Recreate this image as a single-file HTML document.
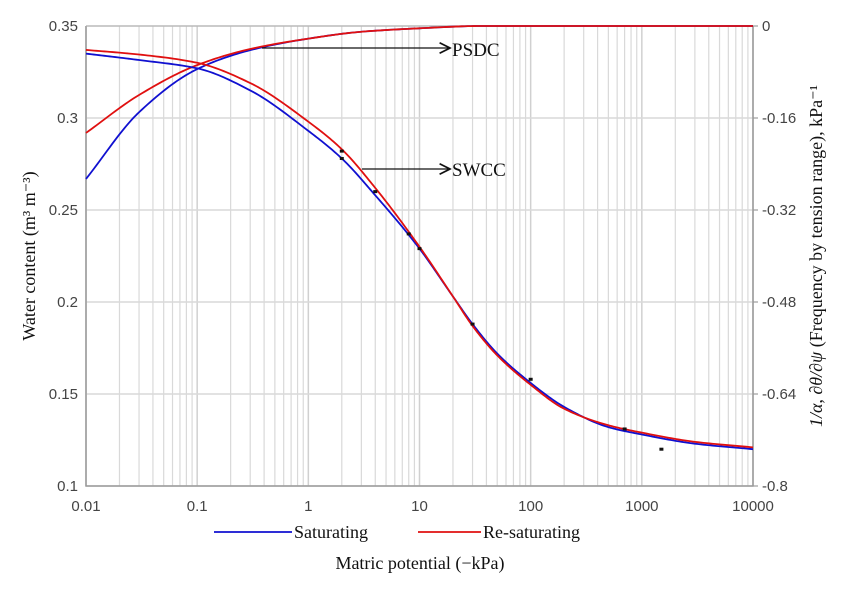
<!DOCTYPE html>
<html><head><meta charset="utf-8"><style>
body{margin:0;background:#fff;}
svg{display:block;font-family:"Liberation Sans",sans-serif;}
.serif{font-family:"Liberation Serif",serif;}
</style></head><body>
<svg id="chart" width="850" height="590"></svg>
<script>
const xTicks=[0.01,0.1,1,10,100,1000,10000];
const xTickLabels=["0.01","0.1","1","10","100","1000","10000"];
const yTicks=[0.1,0.15,0.2,0.25,0.3,0.35];
const yTickLabels=["0.1","0.15","0.2","0.25","0.3","0.35"];
const y2Ticks=[0,-0.16,-0.32,-0.48,-0.64,-0.8];
const y2TickLabels=["0","-0.16","-0.32","-0.48","-0.64","-0.8"];
const swccX=[0.01,0.03,0.1,0.3,1,2,4,10,20,30,50,100,200,500,1000,3000,10000];
const swccSat=[0.335,0.3315,0.327,0.315,0.293,0.278,0.258,0.229,0.203,0.188,0.172,0.156,0.143,0.132,0.128,0.123,0.120];
const swccResat=[0.337,0.3345,0.330,0.319,0.298,0.283,0.262,0.230,0.203,0.187,0.171,0.155,0.142,0.133,0.129,0.124,0.121];
const psdcX=[0.01,0.03,0.1,0.3,1,3,10,35,100,1000,10000];
const psdcSat=[-0.266,-0.150,-0.075,-0.042,-0.022,-0.010,-0.004,0,0,0,0];
const psdcResat=[-0.186,-0.120,-0.068,-0.040,-0.022,-0.010,-0.004,0,0,0,0];
const obsX=[2,2,4,8,10,30,100,700,1500];
const obsY=[0.282,0.278,0.260,0.237,0.229,0.188,0.158,0.131,0.120];

const L=86,R=753,T=26,B=486;
const NS="http://www.w3.org/2000/svg";
const svg=document.getElementById('chart');
const sx=v=>L+(Math.log10(v)+2)/6*(R-L);
const sy=v=>B-(v-0.1)/0.25*(B-T);
const sy2=v=>T+(-v)/0.8*(B-T);
function mk(tag,attrs,parent){const e=document.createElementNS(NS,tag);for(const k in attrs)e.setAttribute(k,attrs[k]);(parent||svg).appendChild(e);return e;}
for(let d=-2;d<4;d++)for(let m=1;m<10;m++){const v=m*Math.pow(10,d);if(m===1)continue;
const g=mk('line',{x1:sx(v),x2:sx(v),y1:T,y2:B,stroke:'#d9d9d9','stroke-width':1.2});

}
xTicks.forEach((v,i)=>{const g=mk('line',{x1:sx(v),x2:sx(v),y1:T,y2:B,stroke:'#d0d0d0','stroke-width':1.5});


const t=mk('text',{x:sx(v),y:B+25,'text-anchor':'middle','font-size':15,fill:'#444'});t.textContent=xTickLabels[i];

});
yTicks.forEach((v,i)=>{const g=mk('line',{x1:L,x2:R,y1:sy(v),y2:sy(v),stroke:'#d9d9d9','stroke-width':1.5});


const t=mk('text',{x:L-8,y:sy(v)+5,'text-anchor':'end','font-size':15,fill:'#444'});t.textContent=yTickLabels[i];

});
y2Ticks.forEach((v,i)=>{const k=mk('line',{x1:R,x2:R+5,y1:sy2(v),y2:sy2(v),stroke:'#888'});


const t=mk('text',{x:R+9,y:sy2(v)+5,'font-size':15,fill:'#444'});t.textContent=y2TickLabels[i];

});
const ax=mk('path',{d:`M${L},${T}V${B}H${R}V${T}`,fill:'none',stroke:'#999','stroke-width':1.5});


const tl=mk('line',{x1:L,x2:R,y1:T,y2:T,stroke:'#aaa'});


function monotone(xs,ys){const n=xs.length,X=xs.map(Math.log10),d=[],m=[];
for(let i=0;i<n-1;i++)d.push((ys[i+1]-ys[i])/(X[i+1]-X[i]));
m[0]=d[0];m[n-1]=d[n-2];
for(let i=1;i<n-1;i++){if(d[i-1]*d[i]<=0)m[i]=0;else{const w1=2*(X[i+1]-X[i])+(X[i]-X[i-1]),w2=(X[i+1]-X[i])+2*(X[i]-X[i-1]);m[i]=(w1+w2)/(w1/d[i-1]+w2/d[i]);}}
const pts=[];
for(let i=0;i<n-1;i++){const h=X[i+1]-X[i];for(let k=0;k<20;k++){const t=k/20,t2=t*t,t3=t2*t;
const y=(2*t3-3*t2+1)*ys[i]+(t3-2*t2+t)*h*m[i]+(-2*t3+3*t2)*ys[i+1]+(t3-t2)*h*m[i+1];
pts.push([Math.pow(10,X[i]+t*h),y]);}}
pts.push([xs[n-1],ys[n-1]]);return pts;}
function curve(xs,ys,fy,color,name){const pts=monotone(xs,ys);
const p=mk('path',{d:'M'+pts.map(q=>sx(q[0]).toFixed(2)+','+fy(q[1]).toFixed(2)).join('L'),fill:'none',stroke:color,'stroke-width':1.8,'stroke-linejoin':'round'});

}
curve(psdcX,psdcSat,sy2,'#1010d0','psdc-saturating');
curve(psdcX,psdcResat,sy2,'#e01010','psdc-resaturating');
curve(swccX,swccSat,sy,'#1010d0','swcc-saturating');
curve(swccX,swccResat,sy,'#e01010','swcc-resaturating');
obsX.forEach((x,i)=>{const r=mk('rect',{x:sx(x)-2,y:sy(obsY[i])-1.5,width:4,height:3,fill:'#111'});

});
</script>
<svg width="850" height="590" style="position:absolute;left:0;top:0" class="serif">
<defs><marker id="ah" markerWidth="10" markerHeight="10" refX="9" refY="5" orient="auto"><path d="M1,1L9,5L1,9" fill="none" stroke="#111" stroke-width="1.3"/></marker></defs>
<line x1="262" y1="48" x2="450" y2="48" stroke="#111" stroke-width="1.3" marker-end="url(#ah)"/>
<text x="452" y="56" font-size="19" fill="#111">PSDC</text>
<line x1="362" y1="169" x2="450" y2="169" stroke="#111" stroke-width="1.3" marker-end="url(#ah)"/>
<text x="452" y="176" font-size="19" fill="#111">SWCC</text>
<text transform="translate(35,256) rotate(-90)" text-anchor="middle" font-size="18" fill="#111">Water content (m³ m⁻³)</text>
<text transform="translate(822,256) rotate(-90)" text-anchor="middle" font-size="18" fill="#111"><tspan font-style="italic">1/α, ∂θ/∂ψ</tspan> (Frequency by tension range), kPa⁻¹</text>
<line x1="214" y1="532" x2="292" y2="532" stroke="#1010d0" stroke-width="1.8"/>
<text x="294" y="538" font-size="18" fill="#111">Saturating</text>
<line x1="418" y1="532" x2="481" y2="532" stroke="#e01010" stroke-width="1.8"/>
<text x="483" y="538" font-size="18" fill="#111">Re-saturating</text>
<text x="420" y="569" text-anchor="middle" font-size="18" fill="#111">Matric potential (−kPa)</text>
</svg>
</body></html>
